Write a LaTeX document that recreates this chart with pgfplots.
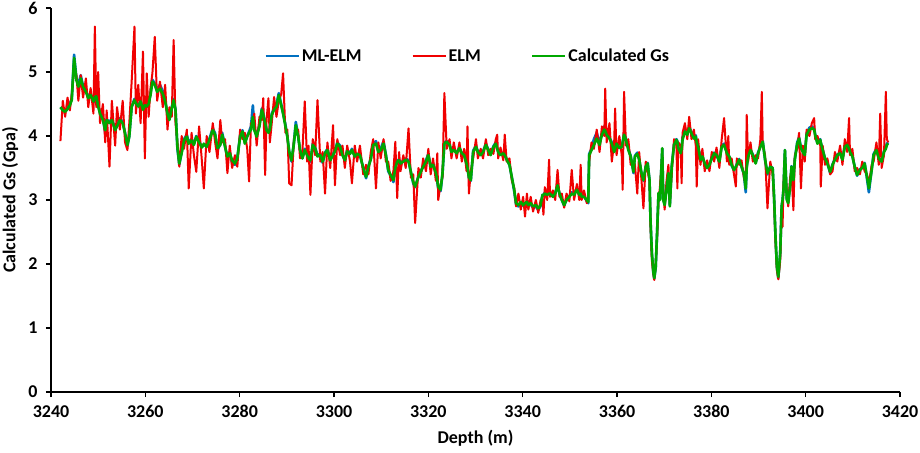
\documentclass[border=0pt]{standalone}
\usepackage{fontspec}
\setmainfont{Carlito}
\usepackage{pgfplots}
\usepackage{pgfplotstable}
\pgfplotsset{compat=1.18}
\definecolor{cblue}{RGB}{0,112,192}
\definecolor{cred}{RGB}{240,0,0}
\definecolor{cgreen}{RGB}{0,168,0}
\pgfplotstableread{
d g r b
3242.0 4.45 3.92 4.45
3242.5 4.40 4.55 4.42
3243.0 4.38 4.30 4.38
3243.5 4.42 4.60 4.43
3244.0 4.48 4.40 4.50
3244.4 4.56 4.65 4.58
3244.9 5.22 5.05 5.27
3245.4 4.87 4.95 4.90
3245.8 4.77 4.55 4.80
3246.3 4.90 4.95 4.95
3246.8 4.77 4.60 4.78
3247.4 4.69 4.90 4.70
3247.9 4.59 4.45 4.62
3248.4 4.64 4.75 4.66
3249.0 4.54 4.35 4.52
3249.3 4.60 5.71 4.62
3249.6 4.62 4.45 4.64
3250.0 4.46 5.00 4.48
3250.4 4.35 4.20 4.36
3251.0 4.25 4.50 4.28
3251.5 4.09 3.90 4.05
3251.8 4.25 4.40 4.26
3252.4 4.20 3.52 4.22
3252.9 4.25 4.55 4.27
3253.6 4.09 3.85 4.10
3254.0 4.15 4.45 4.18
3254.6 4.25 4.10 4.28
3255.2 4.20 4.55 4.22
3255.7 4.04 3.90 4.05
3256.2 3.86 3.78 3.84
3256.6 3.99 4.20 4.00
3257.1 4.46 4.85 4.45
3257.7 4.56 5.71 4.58
3258.0 4.51 4.35 4.52
3258.5 4.46 4.80 4.47
3259.0 4.54 4.20 4.55
3259.5 4.41 5.32 4.42
3259.9 4.48 3.65 4.50
3260.3 4.46 4.98 4.47
3260.7 4.50 4.30 4.52
3261.1 4.64 4.75 4.66
3261.5 4.85 4.98 4.88
3262.0 4.80 5.55 4.82
3262.5 4.69 4.55 4.72
3263.1 4.74 4.85 4.80
3263.7 4.66 4.45 4.70
3264.2 4.54 4.80 4.56
3264.7 4.35 4.10 4.34
3265.1 4.25 4.45 4.27
3265.6 4.43 4.30 4.45
3266.0 4.56 5.50 4.58
3266.4 4.40 4.20 4.42
3266.8 3.83 3.90 3.80
3267.2 3.57 3.52 3.55
3267.7 3.73 4.00 3.75
3268.2 3.93 3.80 3.95
3268.8 3.99 4.10 4.02
3269.2 3.88 3.18 3.90
3269.8 3.93 4.05 3.95
3270.3 3.86 3.70 3.88
3270.8 3.99 3.44 4.00
3271.4 3.90 4.15 3.92
3272.0 3.82 3.60 3.83
3272.4 3.88 3.18 3.86
3273.0 3.83 4.00 3.84
3273.6 3.94 3.75 3.96
3274.3 4.09 4.20 4.12
3274.8 4.02 3.90 4.04
3275.3 3.81 3.65 3.78
3275.9 3.86 4.25 3.88
3276.3 4.02 3.90 4.05
3276.9 3.83 3.95 3.84
3277.4 3.68 3.42 3.66
3277.9 3.73 3.85 3.75
3278.4 3.62 3.50 3.58
3279.0 3.57 3.70 3.55
3279.5 3.65 3.52 3.66
3280.1 3.99 4.10 4.01
3280.6 4.07 3.95 4.09
3281.1 3.88 4.05 3.90
3281.6 3.99 3.80 4.00
3282.0 4.05 3.29 4.07
3282.4 4.10 4.20 4.15
3282.8 4.30 4.15 4.48
3283.1 4.09 4.35 4.12
3283.6 3.99 3.85 4.00
3284.2 4.15 4.30 4.18
3284.7 4.41 4.25 4.43
3285.0 4.33 4.59 4.35
3285.4 4.20 3.39 4.22
3285.7 4.09 4.25 4.10
3286.1 4.05 4.59 4.06
3286.4 4.10 3.90 4.10
3286.8 4.33 4.20 4.35
3287.3 4.41 4.61 4.43
3287.8 4.46 4.30 4.50
3288.3 4.64 4.55 4.67
3288.8 4.48 4.65 4.50
3289.2 4.35 4.98 4.36
3289.7 4.15 4.05 4.18
3290.1 3.99 4.10 4.00
3290.5 3.76 3.26 3.75
3291.0 3.62 3.23 3.60
3291.5 3.88 3.95 3.90
3291.9 4.17 4.05 4.22
3292.4 3.99 4.10 4.00
3292.8 3.78 3.65 3.78
3293.3 3.65 3.75 3.65
3293.8 3.78 4.54 3.80
3294.3 3.70 3.60 3.72
3294.6 3.65 3.85 3.66
3295.0 3.62 3.08 3.60
3295.5 3.86 3.95 3.88
3296.0 3.81 3.70 3.82
3296.5 3.68 4.56 3.70
3297.1 3.70 3.60 3.72
3297.6 3.60 3.75 3.58
3298.1 3.73 3.10 3.74
3298.6 3.78 3.90 3.80
3299.2 3.62 3.50 3.62
3299.8 3.70 4.17 3.72
3300.2 3.76 3.23 3.77
3300.7 3.88 3.95 3.90
3301.3 3.83 3.70 3.85
3301.8 3.70 3.85 3.71
3302.3 3.62 3.50 3.62
3302.8 3.76 3.85 3.78
3303.4 3.72 3.60 3.73
3303.8 3.78 3.26 3.80
3304.4 3.68 3.85 3.68
3304.9 3.72 3.60 3.72
3305.5 3.70 3.85 3.71
3306.2 3.50 3.40 3.50
3306.8 3.36 3.55 3.34
3307.3 3.52 3.40 3.53
3307.8 3.63 3.75 3.65
3308.3 3.86 3.95 3.88
3308.9 3.88 3.18 3.92
3309.4 3.75 3.90 3.76
3309.9 3.78 3.65 3.80
3310.5 3.88 3.95 3.92
3311.0 3.70 3.60 3.71
3311.5 3.47 3.60 3.45
3312.0 3.39 3.30 3.38
3312.6 3.31 3.45 3.28
3313.0 3.50 3.91 3.52
3313.4 3.60 3.03 3.62
3313.8 3.62 3.75 3.63
3314.1 3.57 3.45 3.57
3314.7 3.60 3.70 3.62
3315.2 3.63 3.50 3.65
3315.8 3.60 4.12 3.62
3316.3 3.44 3.35 3.43
3316.8 3.28 3.40 3.26
3317.2 3.21 2.64 3.20
3317.9 3.36 3.50 3.37
3318.4 3.44 3.35 3.45
3318.9 3.52 3.65 3.53
3319.5 3.60 3.45 3.62
3320.0 3.70 3.80 3.72
3320.5 3.52 3.40 3.52
3321.0 3.55 3.65 3.57
3321.6 3.42 3.30 3.42
3321.9 3.30 3.73 3.28
3322.1 3.21 3.00 3.18
3322.6 3.16 3.25 3.14
3323.0 3.42 3.35 3.40
3323.4 3.88 4.67 3.90
3323.9 3.91 3.80 3.92
3324.5 3.86 3.95 3.87
3324.9 3.75 3.65 3.76
3325.4 3.78 3.90 3.79
3326.0 3.73 3.65 3.74
3326.6 3.81 3.90 3.82
3327.1 3.73 3.60 3.73
3327.6 3.70 3.80 3.71
3328.1 3.57 3.45 3.56
3328.3 3.50 4.15 3.50
3328.6 3.36 3.10 3.34
3329.0 3.31 3.45 3.30
3329.5 3.75 3.65 3.77
3330.1 3.83 3.95 3.85
3330.5 3.75 3.65 3.76
3331.1 3.70 3.80 3.71
3331.6 3.75 3.65 3.76
3332.2 3.86 3.95 3.88
3332.7 3.78 3.70 3.79
3333.2 3.70 3.80 3.71
3333.8 3.83 3.72 3.84
3334.3 3.88 3.95 3.90
3334.6 3.80 4.02 3.81
3334.8 3.75 3.65 3.76
3335.3 3.70 3.82 3.71
3335.9 3.73 3.62 3.74
3336.2 3.70 4.02 3.71
3336.6 3.63 3.60 3.64
3337.2 3.55 3.65 3.55
3337.7 3.36 3.30 3.35
3338.2 3.16 3.20 3.14
3338.6 2.95 2.90 2.93
3339.1 2.92 3.10 2.90
3339.6 2.97 2.85 2.96
3340.1 2.92 3.05 2.91
3340.5 2.95 2.74 2.94
3340.9 2.97 3.10 2.96
3341.2 2.92 2.85 2.91
3341.7 2.95 3.05 2.93
3342.2 2.90 2.82 2.88
3342.8 2.92 3.00 2.90
3343.3 2.87 2.80 2.84
3343.8 2.92 3.00 2.91
3344.2 3.08 3.00 3.08
3344.4 3.08 2.77 3.07
3344.7 3.10 3.20 3.12
3345.2 3.08 3.00 3.08
3345.6 3.10 3.63 3.11
3345.8 3.10 3.05 3.11
3346.4 3.05 3.15 3.06
3346.9 3.10 3.00 3.11
3347.4 3.23 3.47 3.24
3347.8 3.10 3.05 3.10
3348.3 3.00 3.10 3.00
3348.8 2.92 2.88 2.91
3349.3 3.00 3.10 3.01
3349.9 3.05 2.98 3.06
3350.4 3.10 3.47 3.12
3350.9 3.08 3.00 3.09
3351.5 3.16 3.25 3.18
3352.0 3.08 3.00 3.12
3352.3 3.10 3.55 3.13
3352.5 3.05 3.00 3.08
3353.0 3.05 3.15 3.06
3353.6 3.00 2.95 2.98
3353.9 2.97 3.00 2.95
3354.1 3.70 3.60 3.72
3354.6 3.78 3.90 3.80
3355.1 3.86 3.80 3.95
3355.7 3.96 4.10 4.05
3356.3 3.86 3.75 3.88
3356.8 4.02 4.15 4.04
3357.3 4.10 4.00 4.15
3357.5 4.08 4.74 4.10
3357.8 4.02 3.90 4.03
3358.4 3.96 4.20 3.98
3358.9 3.88 3.60 3.90
3359.4 3.75 3.90 3.76
3359.6 3.80 4.43 3.82
3359.9 3.88 3.70 3.89
3360.5 3.81 4.00 3.82
3361.0 3.83 3.70 3.84
3361.2 3.90 3.16 3.90
3361.5 4.02 4.69 4.04
3361.9 3.94 3.85 3.96
3362.4 3.78 3.95 3.80
3362.9 3.68 3.55 3.69
3363.5 3.44 3.60 3.42
3363.8 3.68 3.55 3.69
3364.3 3.72 3.10 3.74
3364.7 3.63 3.75 3.64
3365.2 3.42 3.30 3.41
3365.6 3.31 2.87 3.30
3366.1 3.52 3.60 3.53
3366.5 3.57 3.45 3.58
3366.9 3.31 3.30 3.30
3367.1 2.69 2.60 2.68
3367.4 2.17 2.05 2.15
3367.7 1.88 1.85 1.86
3367.9 1.78 1.75 1.77
3368.2 1.95 2.00 1.94
3368.5 2.50 2.40 2.48
3368.8 3.11 3.00 3.10
3369.1 3.00 3.20 3.02
3369.6 3.81 3.70 3.80
3369.8 3.00 3.10 3.02
3370.1 2.92 2.85 2.93
3370.5 3.16 3.30 3.18
3370.9 3.42 3.55 3.43
3371.2 2.90 2.95 2.92
3371.6 3.52 3.40 3.53
3372.1 3.86 3.95 3.88
3372.6 3.94 3.85 3.95
3372.8 3.90 3.18 3.92
3373.0 3.81 3.90 3.82
3373.5 3.73 3.85 3.74
3373.7 3.80 3.26 3.82
3373.9 3.94 4.05 3.98
3374.4 4.07 4.20 4.10
3374.9 4.02 3.95 4.04
3375.3 4.12 4.30 4.14
3375.8 4.04 3.95 4.06
3376.3 3.96 4.10 3.98
3376.7 3.99 3.85 4.01
3376.9 3.90 3.21 3.90
3377.2 3.83 3.95 3.84
3377.7 3.63 3.55 3.62
3378.1 3.68 3.80 3.69
3378.6 3.57 3.45 3.56
3379.1 3.50 3.62 3.50
3379.6 3.55 3.45 3.56
3380.1 3.65 3.75 3.66
3380.6 3.73 3.60 3.74
3381.1 3.70 3.82 3.71
3381.7 3.60 3.50 3.60
3382.2 3.83 3.95 3.85
3382.7 3.86 4.28 3.88
3383.3 3.73 3.60 3.74
3383.6 3.70 4.00 3.70
3383.8 3.68 3.55 3.68
3384.3 3.55 3.65 3.54
3384.8 3.47 3.40 3.46
3385.2 3.52 3.21 3.52
3385.4 3.55 3.65 3.56
3385.9 3.63 3.55 3.64
3386.4 3.52 3.62 3.52
3386.9 3.42 3.35 3.40
3387.3 3.18 3.25 3.12
3387.5 3.50 4.33 3.52
3387.8 3.68 3.60 3.70
3388.3 3.78 3.90 3.79
3388.8 3.70 3.60 3.71
3389.4 3.57 3.70 3.58
3389.9 3.73 3.65 3.74
3390.4 3.83 3.95 3.84
3390.7 3.88 4.69 3.90
3390.9 3.91 3.85 3.92
3391.4 3.63 3.70 3.62
3391.9 3.42 2.87 3.40
3392.5 3.52 3.60 3.53
3393.0 3.50 3.40 3.50
3393.3 3.05 3.00 3.04
3393.6 2.43 2.35 2.42
3393.9 1.96 1.90 1.95
3394.2 1.80 1.76 1.78
3394.6 2.17 2.05 2.16
3394.9 2.90 2.80 2.90
3395.1 3.00 2.58 3.00
3395.3 3.16 3.25 3.17
3395.6 3.78 3.65 3.78
3396.0 3.00 3.10 3.02
3396.3 2.95 2.90 2.96
3396.7 3.21 3.35 3.22
3397.0 3.52 3.45 3.53
3397.4 3.31 2.84 3.32
3397.7 3.63 3.70 3.64
3398.2 3.88 3.80 3.90
3398.6 3.96 4.05 3.98
3399.0 3.81 3.18 3.82
3399.4 3.75 3.85 3.76
3399.8 3.70 3.60 3.71
3400.2 4.02 4.10 4.04
3400.8 4.10 4.00 4.13
3401.3 4.12 4.20 4.15
3401.8 4.10 4.28 4.12
3402.0 4.02 3.95 4.03
3402.5 3.88 4.00 3.89
3403.1 3.94 3.85 3.95
3403.2 3.90 3.21 3.90
3403.6 3.78 3.85 3.79
3404.1 3.65 3.55 3.65
3404.6 3.57 3.65 3.57
3405.2 3.44 3.40 3.42
3405.7 3.55 3.45 3.56
3406.2 3.63 3.75 3.64
3406.7 3.70 3.60 3.71
3407.3 3.73 3.85 3.74
3407.8 3.63 3.55 3.63
3408.3 3.83 3.95 3.85
3408.8 3.86 3.75 3.88
3409.2 3.80 4.28 3.82
3409.4 3.75 3.70 3.76
3409.9 3.68 3.80 3.69
3410.4 3.52 3.45 3.52
3410.9 3.39 3.50 3.38
3411.5 3.47 3.40 3.48
3412.0 3.50 3.60 3.51
3412.5 3.57 3.45 3.58
3413.0 3.36 3.40 3.33
3413.4 3.18 3.25 3.12
3414.0 3.47 3.55 3.48
3414.4 3.70 3.60 3.72
3415.0 3.78 3.90 3.80
3415.5 3.65 3.55 3.66
3415.8 3.62 4.35 3.63
3416.1 3.60 3.50 3.61
3416.6 3.75 3.70 3.76
3417.0 3.80 4.69 3.82
3417.2 3.86 3.95 3.88
3417.5 3.88 3.90 3.90
}\datatable
\begin{document}
\begin{tikzpicture}
\begin{axis}[
  at={(0,0)}, anchor=south west,
  scale only axis, width=849pt, height=384pt,
  xmin=3240, xmax=3420, ymin=0, ymax=6,
  xtick distance=20, ytick distance=1,
  axis lines*=left,
  axis line style={line width=1.5pt, black},
  tick align=outside, major tick length=5pt,
  tick style={line width=1.2pt, black},
  /pgf/number format/assume math mode=true,
  /pgf/number format/1000 sep={},
  tick label style={font=\fontsize{18}{20}\selectfont\bfseries},
  yticklabel style={xshift=-5pt},
  xticklabel style={yshift=-5pt},
  xlabel={Depth (m)},
  ylabel={Calculated Gs (Gpa)},
  label style={font=\fontsize{18}{20}\selectfont\bfseries},
  xlabel style={at={(axis description cs:0.5,0)}, anchor=center, yshift=-46pt},
  ylabel style={at={([xshift=-41pt]axis description cs:0,0.5)}, anchor=center},
  legend columns=3,
  legend style={draw=none, fill=none, at={(axis description cs:0.2509,0.875)}, anchor=west,
    inner sep=0pt, font=\fontsize{18}{20}\selectfont\bfseries,
    /tikz/every even column/.append style={column sep=48pt}},
  legend image code/.code={\draw[#1] (0pt,0pt) -- (33pt,0pt);},
  clip=false,
]
\addplot[cblue, line width=2.6pt, line join=round] table[x=d, y=b] {\datatable};
\addlegendentry{ML-ELM}
\addplot[cred, line width=2pt, line join=round] table[x=d, y=r] {\datatable};
\addlegendentry{ELM}
\addplot[cgreen, line width=2.6pt, line join=round] table[x=d, y=g] {\datatable};
\addlegendentry{Calculated Gs}
\end{axis}
\pgfresetboundingbox
\path (-51pt,-60pt) rectangle (869pt,392pt);
\end{tikzpicture}
\end{document}
